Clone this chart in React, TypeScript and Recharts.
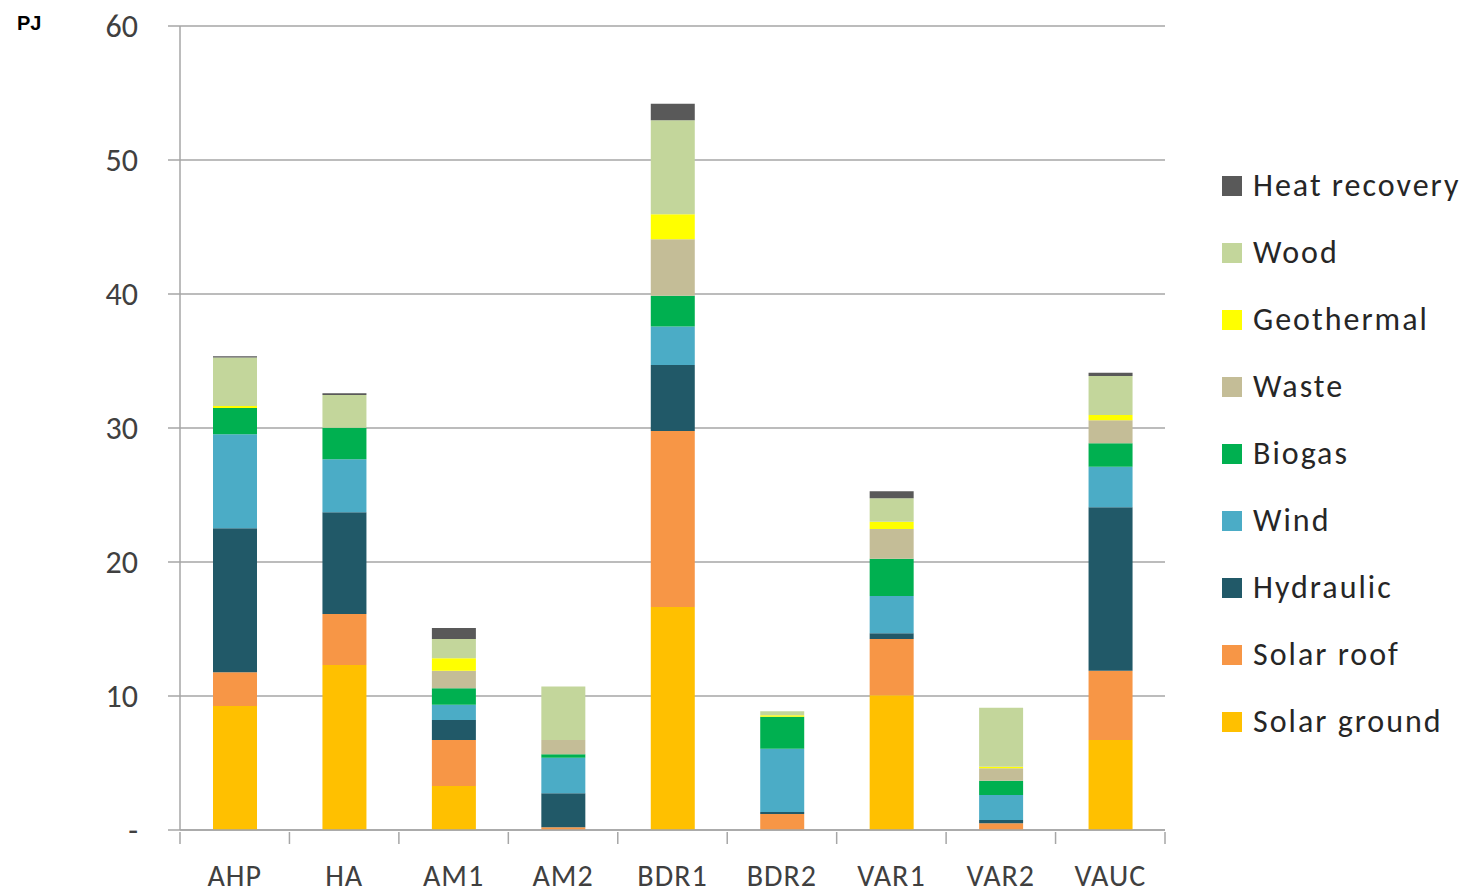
import { BarChart, Bar, XAxis, YAxis, CartesianGrid, Legend } from "recharts";

const categories = ["AHP", "HA", "AM1", "AM2", "BDR1", "BDR2", "VAR1", "VAR2", "VAUC"];

const solarGround = [9.25, 12.31, 3.28, 0, 16.65, 0, 10.05, 0, 6.72];
const solarRoof = [2.52, 3.81, 3.44, 0.2, 13.12, 1.2, 4.2, 0.5, 5.17];
const hydraulic = [10.74, 7.59, 1.49, 2.54, 4.93, 0.15, 0.43, 0.25, 12.19];
const wind = [7.02, 3.95, 1.14, 2.66, 2.88, 4.71, 2.78, 1.86, 3.03];
const biogas = [1.96, 2.36, 1.22, 0.25, 2.29, 2.39, 2.79, 1.07, 1.75];
const waste = [0, 0, 1.32, 1.07, 4.22, 0, 2.21, 0.92, 1.71];
const geothermal = [0.15, 0, 0.92, 0, 1.86, 0.12, 0.55, 0.12, 0.4];
const wood = [3.62, 2.44, 1.44, 3.98, 7.01, 0.3, 1.74, 4.41, 2.91];
const heatRecovery = [0.1, 0.13, 0.82, 0, 1.23, 0, 0.53, 0, 0.25];

const yTicks = [0, 10, 20, 30, 40, 50, 60];

const series = [
  { key: "Solar ground", values: solarGround, color: "#FFC000" },
  { key: "Solar roof", values: solarRoof, color: "#F79646" },
  { key: "Hydraulic", values: hydraulic, color: "#215968" },
  { key: "Wind", values: wind, color: "#4BACC6" },
  { key: "Biogas", values: biogas, color: "#00B050" },
  { key: "Waste", values: waste, color: "#C4BD97" },
  { key: "Geothermal", values: geothermal, color: "#FFFF00" },
  { key: "Wood", values: wood, color: "#C3D69B" },
  { key: "Heat recovery", values: heatRecovery, color: "#595959" },
];

const data = categories.map((name, i) => {
  const row: Record<string, string | number> = { name };
  series.forEach(s => {
    row[s.key] = s.values[i];
  });
  return row;
});

const FONT = "Carlito, Lato, 'Open Sans', sans-serif";
const GRID = "#A6A6A6";
const TEXT = "#404040";

const PLOT_LEFT = 180;
const PLOT_RIGHT = 1165;
const HALF_BAND = (PLOT_RIGHT - PLOT_LEFT) / categories.length / 2;

function CategoryTick(props: any) {
  const { x, y, payload, index } = props;
  return (
    <g>
      <line x1={x - HALF_BAND} y1={y - 6} x2={x - HALF_BAND} y2={y + 6} stroke={GRID} strokeWidth={1.5} />
      {index === categories.length - 1 && (
        <line x1={x + HALF_BAND} y1={y - 6} x2={x + HALF_BAND} y2={y + 6} stroke={GRID} strokeWidth={1.5} />
      )}
      <text x={x} y={y + 48} textAnchor="middle" fill={TEXT} fontSize={30} letterSpacing={1} fontFamily={FONT}>
        {payload.value}
      </text>
    </g>
  );
}

function LegendList() {
  return (
    <div style={{ fontFamily: FONT, fontSize: 32, letterSpacing: 2, color: "#262626" }}>
      {[...series].reverse().map(s => (
        <div key={s.key} style={{ height: 67, display: "flex", alignItems: "center", whiteSpace: "nowrap" }}>
          <span style={{ width: 20, height: 20, background: s.color, display: "inline-block", marginRight: 11 }} />
          <span>{s.key}</span>
        </div>
      ))}
    </div>
  );
}

export default function App() {
  return (
    <div style={{ position: "absolute", left: 0, top: 0, width: 1470, height: 894, background: "#fff" }}>
      <div
        style={{
          position: "absolute",
          left: 17,
          top: 12,
          fontFamily: "'Liberation Sans', Arial, sans-serif",
          fontWeight: "bold",
          fontSize: 20,
          color: "#000",
        }}
      >
        PJ
      </div>
      <BarChart
        width={1470}
        height={894}
        data={data}
        margin={{ top: 26, right: 1470 - PLOT_RIGHT, bottom: 0, left: 0 }}
        barSize={44}
      >
        <CartesianGrid vertical={false} stroke={GRID} strokeWidth={1.5} />
        <XAxis
          dataKey="name"
          height={64}
          stroke={GRID}
          strokeWidth={1.5}
          tickLine={false}
          tick={<CategoryTick />}
          interval={0}
        />
        <YAxis
          width={PLOT_LEFT}
          domain={[0, 60]}
          ticks={yTicks}
          interval={0}
          stroke={GRID}
          strokeWidth={1.5}
          tickSize={12}
          tickMargin={30}
          tick={{ fill: TEXT, fontSize: 32, fontFamily: FONT }}
          tickFormatter={(v: number) => (v === 0 ? "-" : String(v))}
        />
        <Legend
          layout="vertical"
          align="center"
          verticalAlign="middle"
          wrapperStyle={{ left: 1222, top: 152, width: 250 }}
          content={() => <LegendList />}
        />
        {series.map(s => (
          <Bar key={s.key} dataKey={s.key} stackId="a" fill={s.color} isAnimationActive={false} />
        ))}
      </BarChart>
    </div>
  );
}
